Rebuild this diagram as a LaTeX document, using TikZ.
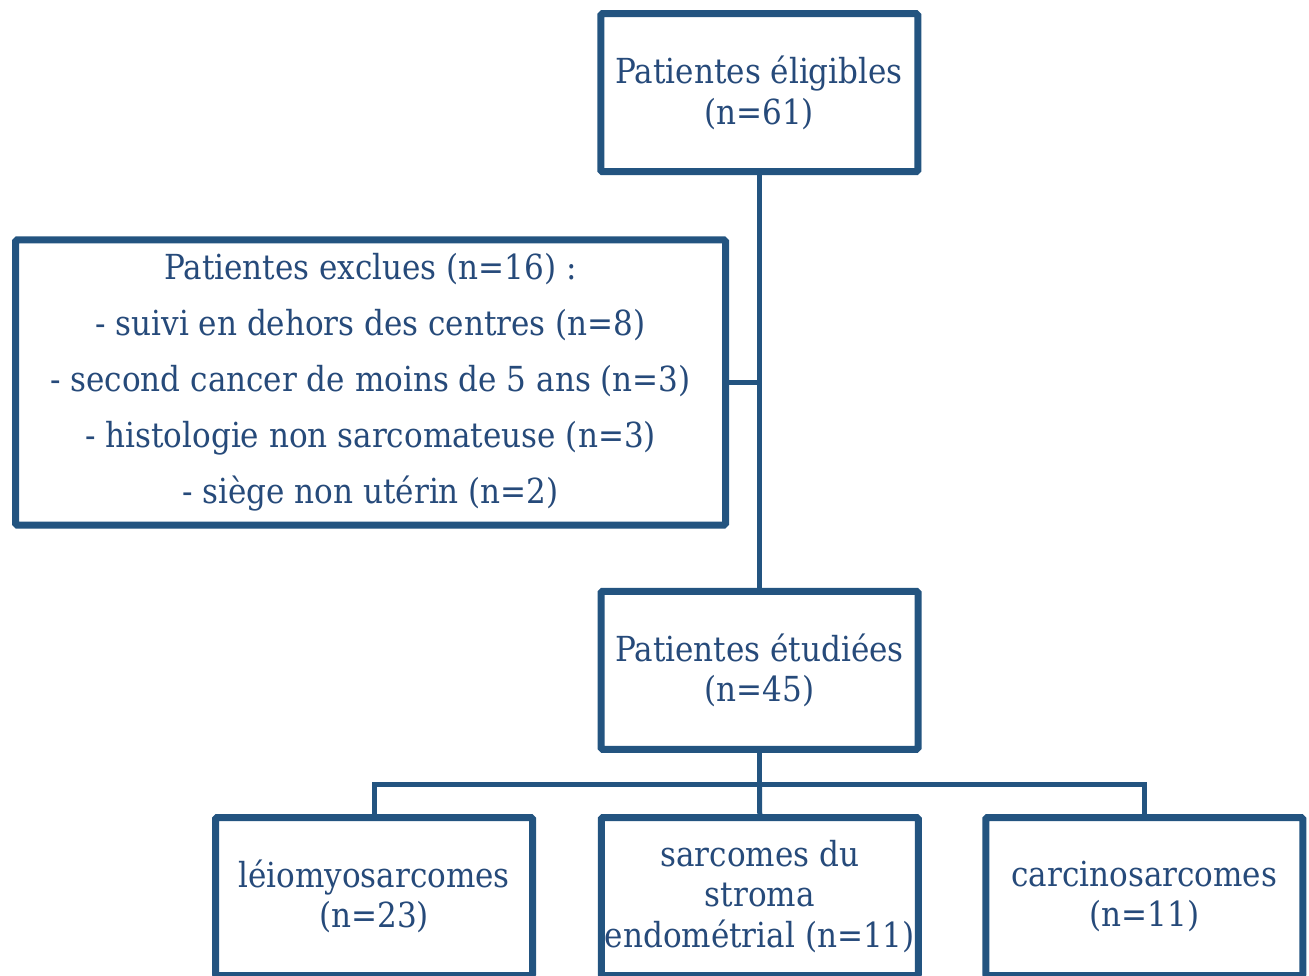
\documentclass[tikz,border=0pt]{standalone}
\usepackage{fontspec}
\setmainfont{DejaVu Serif Condensed}
\usetikzlibrary{shadows}
\definecolor{boxblue}{RGB}{35,84,128}
\definecolor{txtblue}{RGB}{38,74,122}
\begin{document}
\begin{tikzpicture}[x=1pt,y=-1pt,
  box/.style={draw=boxblue, line width=7pt, fill=white, rounded corners=1.5pt,
    minimum width=317pt, minimum height=158pt, inner sep=0pt, align=center,
    text=txtblue, font=\fontsize{34.5}{40.5}\selectfont,
    drop shadow={opacity=0.25, shadow xshift=1pt, shadow yshift=-3pt}},
  link/.style={draw=boxblue, line width=5pt, line join=miter}]
\useasboundingbox (0,0) rectangle (1309,976);
\node[box] (elig) at (759.25,92.75) {Patientes éligibles\\(n=61)};
\node[box, minimum width=710pt, minimum height=285pt, font=\fontsize{34.5}{56}\selectfont] (excl) at (370.5,382.5)
  {Patientes exclues (n=16) :\\- suivi en dehors des centres (n=8)\\- second cancer de moins de 5 ans (n=3)\\- histologie non sarcomateuse (n=3)\\- siège non utérin (n=2)};
\node[box] (etud) at (759.5,670.25) {Patientes étudiées\\(n=45)};
\node[box] (leio) at (374,896.5) {léiomyosarcomes\\(n=23)};
\node[box] (strom) at (759.75,896.5) {sarcomes du\\stroma\\endométrial (n=11)};
\node[box] (carc) at (1144.25,896.5) {carcinosarcomes\\(n=11)};
\coordinate (j1) at (elig.south |- excl.east);
\coordinate (j2) at (759.5,784);
\draw[link] (elig.south) -- (elig.south |- etud.north);
\draw[link] (excl.east) -- (j1);
\draw[link] (etud.south) -- (j2);
\draw[link] (leio.north) |- (j2) -| (carc.north);
\draw[link] (j2) -- (strom.north);
\end{tikzpicture}
\end{document}
